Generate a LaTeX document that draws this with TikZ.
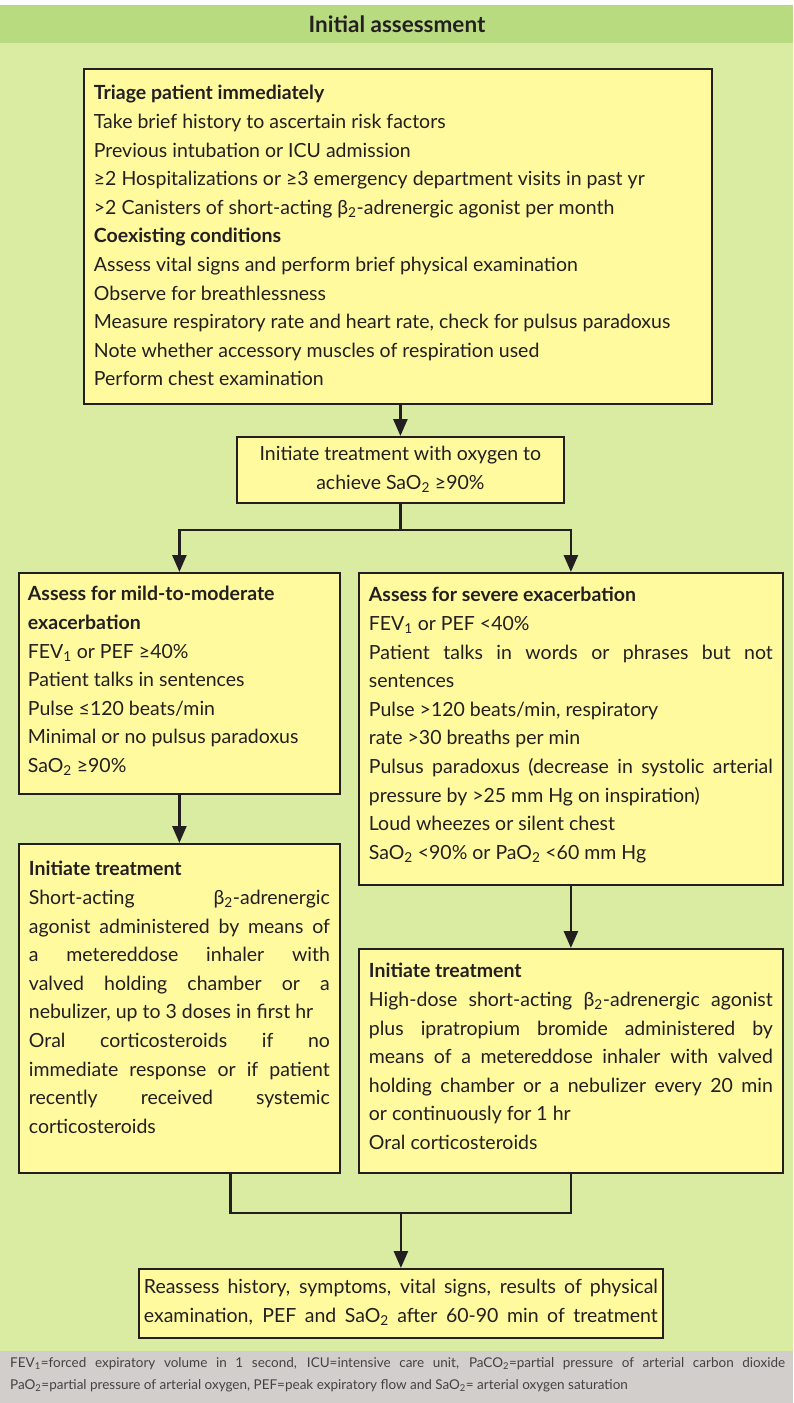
\documentclass[tikz,border=0pt]{standalone}
\usepackage{fontspec}
\setmainfont{Lato}
\usepackage{xcolor}
\usetikzlibrary{arrows.meta}

\definecolor{hdrgreen}{RGB}{185,219,128}
\definecolor{bggreen}{RGB}{218,235,162}
\definecolor{boxyellow}{RGB}{255,250,158}
\definecolor{notegrey}{RGB}{210,206,204}
\definecolor{ink}{RGB}{35,31,32}

% full-width (stretched) line
\newcommand{\fl}[1]{\makebox[\linewidth][s]{#1}}
% box text: width, height, first baseline, lines
\newcommand{\boxtext}[4]{\begin{minipage}[t][#2][t]{#1}\raggedright\rule{0pt}{#3}#4\end{minipage}}

\begin{document}
\begin{tikzpicture}[x=1pt, y=-1pt,
  box/.style={draw=ink, line width=1.8pt, fill=boxyellow, anchor=north west,
    inner xsep=10pt, inner ysep=0pt, text=ink, font=\fontsize{19.5}{28.6}\selectfont},
  line/.style={draw=ink, line width=2.6pt},
  arr/.style={line, -{Triangle[length=17pt,width=14pt]}}]
  \useasboundingbox (0,0) rectangle (793,1403);

  % Fill in the background bands
  \fill[white] (0,0) rectangle (793,5);
  \fill[hdrgreen] (0,5) rectangle (793,43);
  \fill[bggreen] (0,43) rectangle (793,1351);
  \fill[notegrey] (0,1351) rectangle (793,1403);

  \node[text=ink, font=\fontsize{22.5}{24}\selectfont\bfseries] (title) at (397,24) {Initial assessment};

  % Draw the boxes
  \node[box] (triage) at (83,68) {\boxtext{608pt}{335pt}{31pt}{%
    \textbf{Triage patient immediately}\\
    Take brief history to ascertain risk factors\\
    Previous intubation or ICU admission\\
    ≥2 Hospitalizations or ≥3 emergency department visits in past yr\\
    >2 Canisters of short-acting β\textsubscript{2}-adrenergic agonist per month\\
    \textbf{Coexisting conditions}\\
    Assess vital signs and perform brief physical examination\\
    Observe for breathlessness\\
    Measure respiratory rate and heart rate, check for pulsus paradoxus\\
    Note whether accessory muscles of respiration used\\
    Perform chest examination}};

  \node[box] (oxygen) at (236,436) {\boxtext{307pt}{66pt}{24pt}{\centering
    Initiate treatment with oxygen to\\
    achieve SaO\textsubscript{2} ≥90\%}};

  \node[box, inner xsep=9pt] (mild) at (18,572) {\boxtext{303pt}{221pt}{28pt}{%
    \textbf{Assess for mild-to-moderate}\\
    \textbf{exacerbation}\\
    FEV\textsubscript{1} or PEF ≥40\%\\
    Patient talks in sentences\\
    Pulse ≤120 beats/min\\
    Minimal or no pulsus paradoxus\\
    SaO\textsubscript{2} ≥90\%}};

  \node[box] (severe) at (358,572) {\boxtext{404pt}{312pt}{29pt}{%
    \textbf{Assess for severe exacerbation}\\
    FEV\textsubscript{1} or PEF <40\%\\
    \fl{Patient talks in words or phrases but not}\\
    sentences\\
    Pulse >120 beats/min, respiratory\\
    rate >30 breaths per min\\
    \fl{Pulsus paradoxus (decrease in systolic arterial}\\
    pressure by >25 mm Hg on inspiration)\\
    Loud wheezes or silent chest\\
    SaO\textsubscript{2} <90\% or PaO\textsubscript{2} <60 mm Hg}};

  \node[box] (treatl) at (18,843) {\boxtext{301pt}{329pt}{32pt}{%
    \textbf{Initiate treatment}\\
    \fl{Short-acting β\textsubscript{2}-adrenergic}\\
    \fl{agonist administered by means of}\\
    \fl{a metereddose inhaler with}\\
    \fl{valved holding chamber or a}\\
    nebulizer, up to 3 doses in first hr\\
    \fl{Oral corticosteroids if no}\\
    \fl{immediate response or if patient}\\
    \fl{recently received systemic}\\
    corticosteroids}};

  \node[box] (treatr) at (358,948) {\boxtext{404pt}{224pt}{29pt}{%
    \textbf{Initiate treatment}\\
    \fl{High-dose short-acting β\textsubscript{2}-adrenergic agonist}\\
    \fl{plus ipratropium bromide administered by}\\
    \fl{means of a metereddose inhaler with valved}\\
    \fl{holding chamber or a nebulizer every 20 min}\\
    or continuously for 1 hr\\
    Oral corticosteroids}};

  \node[box, inner xsep=5pt] (reassess) at (138,1268) {\boxtext{514pt}{69pt}{25pt}{%
    \fl{Reassess history, symptoms, vital signs, results of physical}\\
    \fl{examination, PEF and SaO\textsubscript{2} after 60-90 min of treatment}}};

  % Draw the arrows
  \draw[arr] (oxygen.north |- triage.south) -- (oxygen.north);
  \draw[line] (oxygen.south) -- ++(0,26) coordinate (split);
  \draw[arr] (split) -| (mild.north);
  \draw[arr] (split) -| (severe.north);
  \draw[arr] (mild.south) -- (treatl.north);
  \draw[arr] (severe.south) -- (treatr.north);
  \draw[line] ([xshift=51pt]treatl.south) -- ++(0,39) coordinate (join) -| (treatr.south);
  \draw[arr] (reassess.north |- join) -- (reassess.north);

  % Footnote
  \node[anchor=north west, inner sep=0pt, text=ink!85, font=\fontsize{13.5}{22}\selectfont] (notes) at (10,1357) {%
    \begin{minipage}[t]{775pt}\raggedright
    \fl{FEV\textsubscript{1}=forced expiratory volume in 1 second, ICU=intensive care unit, PaCO\textsubscript{2}=partial pressure of arterial carbon dioxide}\\
    PaO\textsubscript{2}=partial pressure of arterial oxygen, PEF=peak expiratory flow and SaO\textsubscript{2}= arterial oxygen saturation
    \end{minipage}};
\end{tikzpicture}
\end{document}
